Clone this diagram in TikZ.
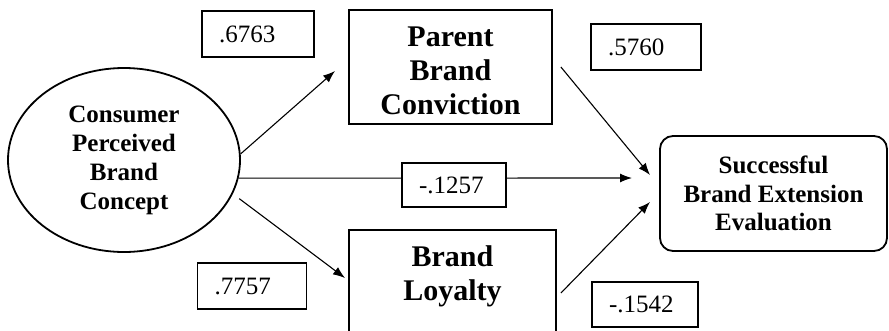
\documentclass[tikz,border=0pt]{standalone}
\usepackage{fontspec}
\setmainfont{Liberation Serif}
\usetikzlibrary{arrows.meta,shapes.geometric}

\begin{document}
\begin{tikzpicture}[x=1pt, y=-1pt,
  construct/.style={draw, line width=1.8pt, align=center, inner sep=0pt},
  weight/.style={draw, line width=1.1pt, fill=white, inner ysep=0pt, inner xsep=17pt,
    text width=#1, align=left, minimum height=46pt, font=\fontsize{25}{28}\selectfont},
  path/.style={line width=1.1pt, -{Latex[length=12pt,width=9pt]}}]
\useasboundingbox (0,0) rectangle (889,330);

% Constructs
\node [construct, ellipse, minimum width=232pt, minimum height=184pt,
  font=\bfseries\fontsize{25}{29}\selectfont] (concept) at (124,160)
  {Consumer\\Perceived\\Brand\\Concept};
\node [construct, rectangle, minimum width=203pt, minimum height=114pt,
  font=\bfseries\fontsize{30}{34}\selectfont] (parent) at (450.5,67)
  {\rule{0pt}{27pt}Parent\\Brand\\Conviction};
\node [construct, rectangle, minimum width=207pt, minimum height=114pt,
  font=\bfseries\fontsize{30}{34}\selectfont] (loyalty) at (452.5,287)
  {\rule{0pt}{27pt}Brand\\Loyalty\\\vphantom{C}};
\node [construct, rectangle, rounded corners=13pt, minimum width=227pt, minimum height=115pt,
  font=\bfseries\fontsize{25}{28.5}\selectfont] (success) at (773.5,193.5)
  {Successful\\Brand Extension\\Evaluation};

% Arrow ends
\coordinate (toparent) at (335,71);
\coordinate (toloyalty) at (345,278);
\coordinate (fromdirect) at (632,178);
\coordinate (fromparent) at (650,175);
\coordinate (fromloyalty) at (650,202);

% Paths
\draw [path] (concept.3) -- (toparent);
\draw [path] ([xshift=9pt]concept.-20) -- (toloyalty);
\draw [path] (concept.-9) -- (fromdirect);
\draw [path] ([xshift=8pt]parent.east) -- (fromparent);
\draw [path] ([xshift=4pt,yshift=-6pt]loyalty.east) -- (fromloyalty);

% Coefficients
\node [weight=78pt] (w1) at (258,34) {.6763};
\node [weight=75pt] (w2) at (252,286) {.7757};
\node [weight=70pt, minimum height=44pt] (w3) at (454,185) {-.1257};
\node [weight=76pt] (w4) at (646,47) {.5760};
\node [weight=72pt, minimum height=45pt] (w5) at (645,304.5) {-.1542};
\end{tikzpicture}
\end{document}
